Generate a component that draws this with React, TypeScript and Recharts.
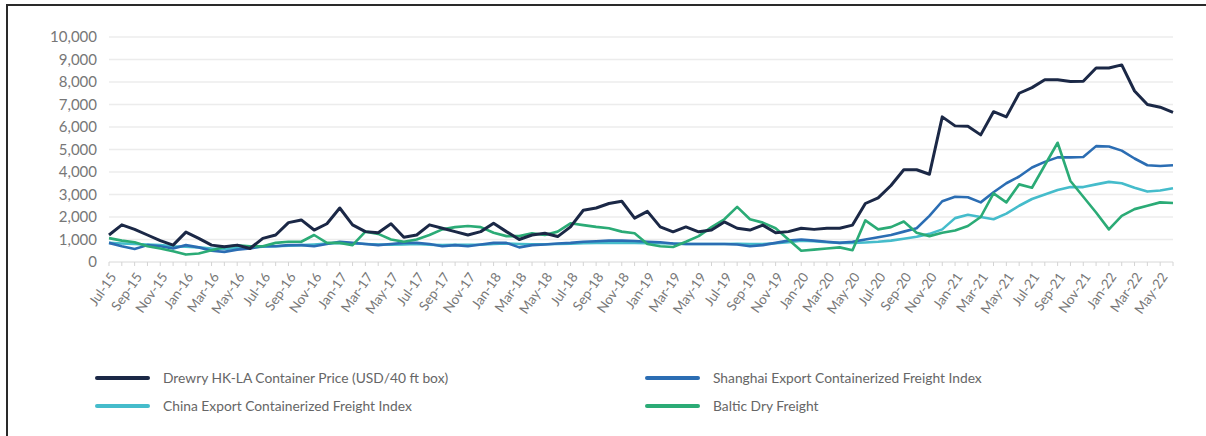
import { LineChart, Line, XAxis, YAxis, CartesianGrid } from 'recharts'

// Monthly observations, Jul-15 .. Jun-22
const months = [
  'Jul-15', 'Aug-15', 'Sep-15', 'Oct-15', 'Nov-15', 'Dec-15',
  'Jan-16', 'Feb-16', 'Mar-16', 'Apr-16', 'May-16', 'Jun-16', 'Jul-16', 'Aug-16', 'Sep-16', 'Oct-16', 'Nov-16', 'Dec-16',
  'Jan-17', 'Feb-17', 'Mar-17', 'Apr-17', 'May-17', 'Jun-17', 'Jul-17', 'Aug-17', 'Sep-17', 'Oct-17', 'Nov-17', 'Dec-17',
  'Jan-18', 'Feb-18', 'Mar-18', 'Apr-18', 'May-18', 'Jun-18', 'Jul-18', 'Aug-18', 'Sep-18', 'Oct-18', 'Nov-18', 'Dec-18',
  'Jan-19', 'Feb-19', 'Mar-19', 'Apr-19', 'May-19', 'Jun-19', 'Jul-19', 'Aug-19', 'Sep-19', 'Oct-19', 'Nov-19', 'Dec-19',
  'Jan-20', 'Feb-20', 'Mar-20', 'Apr-20', 'May-20', 'Jun-20', 'Jul-20', 'Aug-20', 'Sep-20', 'Oct-20', 'Nov-20', 'Dec-20',
  'Jan-21', 'Feb-21', 'Mar-21', 'Apr-21', 'May-21', 'Jun-21', 'Jul-21', 'Aug-21', 'Sep-21', 'Oct-21', 'Nov-21', 'Dec-21',
  'Jan-22', 'Feb-22', 'Mar-22', 'Apr-22', 'May-22', 'Jun-22',
]

const drewry = [
  1200, 1650, 1450, 1200, 950, 750, 1330, 1050, 750, 680, 750, 600,
  1050, 1200, 1750, 1870, 1420, 1700, 2400, 1650, 1350, 1300, 1700, 1100,
  1200, 1650, 1500, 1350, 1200, 1350, 1720, 1350, 1000, 1200, 1280, 1130,
  1560, 2300, 2400, 2600, 2700, 1950, 2250, 1560, 1340, 1560, 1340, 1420,
  1780, 1500, 1420, 1640, 1300, 1350, 1500, 1450, 1500, 1500, 1640, 2600,
  2850, 3400, 4100, 4100, 3900, 6450, 6050, 6030, 5650, 6680, 6450, 7500,
  7750, 8100, 8100, 8020, 8030, 8620, 8620, 8760, 7600, 7000, 6880, 6650,
]

const scfi = [
  850, 700, 580, 750, 700, 600, 750, 650, 500, 450, 550, 600,
  700, 700, 750, 750, 700, 800, 900, 850, 800, 750, 800, 850,
  850, 800, 700, 750, 700, 780, 850, 850, 650, 750, 780, 820,
  850, 900, 920, 950, 950, 930, 900, 880, 820, 800, 800, 800,
  800, 780, 700, 750, 850, 950, 1000, 950, 900, 850, 900, 1000,
  1100, 1200, 1350, 1500, 2050, 2700, 2900, 2880, 2650, 3100, 3500, 3800,
  4200, 4450, 4650, 4650, 4670, 5150, 5130, 4950, 4600, 4300, 4270, 4300,
]

const ccfi = [
  850, 820, 800, 780, 750, 700, 680, 650, 600, 580, 620, 650,
  680, 700, 720, 750, 780, 820, 850, 830, 800, 780, 770, 780,
  800, 770, 750, 760, 760, 770, 800, 820, 800, 790, 790, 800,
  810, 830, 850, 850, 860, 850, 840, 830, 820, 800, 800, 800,
  800, 810, 800, 800, 830, 880, 950, 920, 880, 850, 850, 870,
  900, 950, 1030, 1120, 1250, 1450, 1950, 2100, 2000, 1900, 2150, 2500,
  2800, 3000, 3200, 3330, 3330, 3450, 3560, 3500, 3300, 3130, 3180, 3280,
]

const bdi = [
  1060, 950, 880, 700, 600, 480, 330, 380, 520, 670, 740, 700,
  700, 850, 900, 900, 1200, 850, 850, 750, 1350, 1250, 1000, 900,
  1000, 1200, 1450, 1550, 1600, 1550, 1300, 1150, 1150, 1280, 1200, 1350,
  1720, 1640, 1560, 1500, 1350, 1280, 800, 700, 670, 900, 1150, 1550,
  1900, 2450, 1900, 1750, 1500, 1000, 500, 550, 600, 650, 520, 1850,
  1450, 1550, 1800, 1300, 1150, 1300, 1400, 1600, 2000, 3050, 2650, 3450,
  3300, 4300, 5300, 3600, 2900, 2200, 1450, 2050, 2350, 2500, 2650, 2620,
]

const yTicks = [0, 1000, 2000, 3000, 4000, 5000, 6000, 7000, 8000, 9000, 10000]

const series = [
  { key: 'drewry', name: 'Drewry HK-LA Container Price (USD/40 ft box)', color: '#1b2846' },
  { key: 'scfi', name: 'Shanghai Export Containerized Freight Index', color: '#2b6db3' },
  { key: 'ccfi', name: 'China Export Containerized Freight Index', color: '#45bccb' },
  { key: 'bdi', name: 'Baltic Dry Freight', color: '#2bab76' },
]

// draw order: lighter indices first, Drewry on top
const drawOrder = ['ccfi', 'scfi', 'bdi', 'drewry']

const data = months.map((m, i) => ({
  month: m,
  drewry: drewry[i],
  scfi: scfi[i],
  ccfi: ccfi[i],
  bdi: bdi[i],
}))

const FONT = 'Lato, "Noto Sans", sans-serif'

// every month gets a tick mark, only every second month gets a label
function MonthTick(props: any) {
  const { x, y, payload } = props
  if (months.indexOf(payload.value) % 2 !== 0) return <g />
  const tx = x + 4
  const ty = y + 6
  return (
    <text
      x={tx}
      y={ty}
      transform={`rotate(-55 ${tx} ${ty})`}
      textAnchor="end"
      dominantBaseline="central"
      fontSize={13.5}
      fill="#777"
      fontFamily={FONT}
    >
      {payload.value}
    </text>
  )
}

function LegendRow({ color, name, left, top }: { color: string; name: string; left: number; top: number }) {
  return (
    <div style={{ position: 'absolute', left, top, display: 'flex', alignItems: 'center' }}>
      <div style={{ width: 55, height: 4, borderRadius: 2, background: color, marginRight: 13 }} />
      <span style={{ fontSize: 13.8, color: '#666', fontFamily: FONT, whiteSpace: 'nowrap' }}>{name}</span>
    </div>
  )
}

export default function App() {
  const byKey = Object.fromEntries(series.map(s => [s.key, s]))
  return (
    <div style={{ position: 'absolute', left: 0, top: 0, width: 1206, height: 436, background: '#fff', overflow: 'hidden' }}>
      {/* frame */}
      <div style={{
        position: 'absolute', left: 6, top: 4, right: -4, bottom: -4,
        borderLeft: '2px solid #2a2a2a', borderTop: '2px solid #2a2a2a',
      }} />

      <div style={{ position: 'absolute', left: 0, top: 0 }}>
        <LineChart width={1206} height={345} data={data} margin={{ top: 37, right: 33, left: 0, bottom: 0 }}>
          <CartesianGrid vertical={false} stroke="#ececec" strokeWidth={1.5} />
          <XAxis
            dataKey="month"
            interval={0}
            height={83}
            tick={<MonthTick />}
            tickSize={4}
            tickLine={{ stroke: '#d4d4d4' }}
            axisLine={{ stroke: '#e6e6e6' }}
          />
          <YAxis
            width={109}
            domain={[0, 10000]}
            ticks={yTicks}
            interval={0}
            axisLine={false}
            tickLine={false}
            tickMargin={6}
            tickFormatter={(v: number) => v.toLocaleString('en-US')}
            tick={{ fontSize: 15, fill: '#777', fontFamily: FONT }}
          />
          {drawOrder.map(k => (
            <Line
              key={k}
              type="linear"
              dataKey={k}
              name={byKey[k].name}
              stroke={byKey[k].color}
              strokeWidth={k === 'drewry' ? 3 : 2.6}
              strokeLinejoin="round"
              dot={false}
              isAnimationActive={false}
            />
          ))}
        </LineChart>
      </div>

      <LegendRow color={series[0].color} name={series[0].name} left={95} top={369} />
      <LegendRow color={series[2].color} name={series[2].name} left={95} top={397} />
      <LegendRow color={series[1].color} name={series[1].name} left={645} top={369} />
      <LegendRow color={series[3].color} name={series[3].name} left={645} top={397} />
    </div>
  )
}
